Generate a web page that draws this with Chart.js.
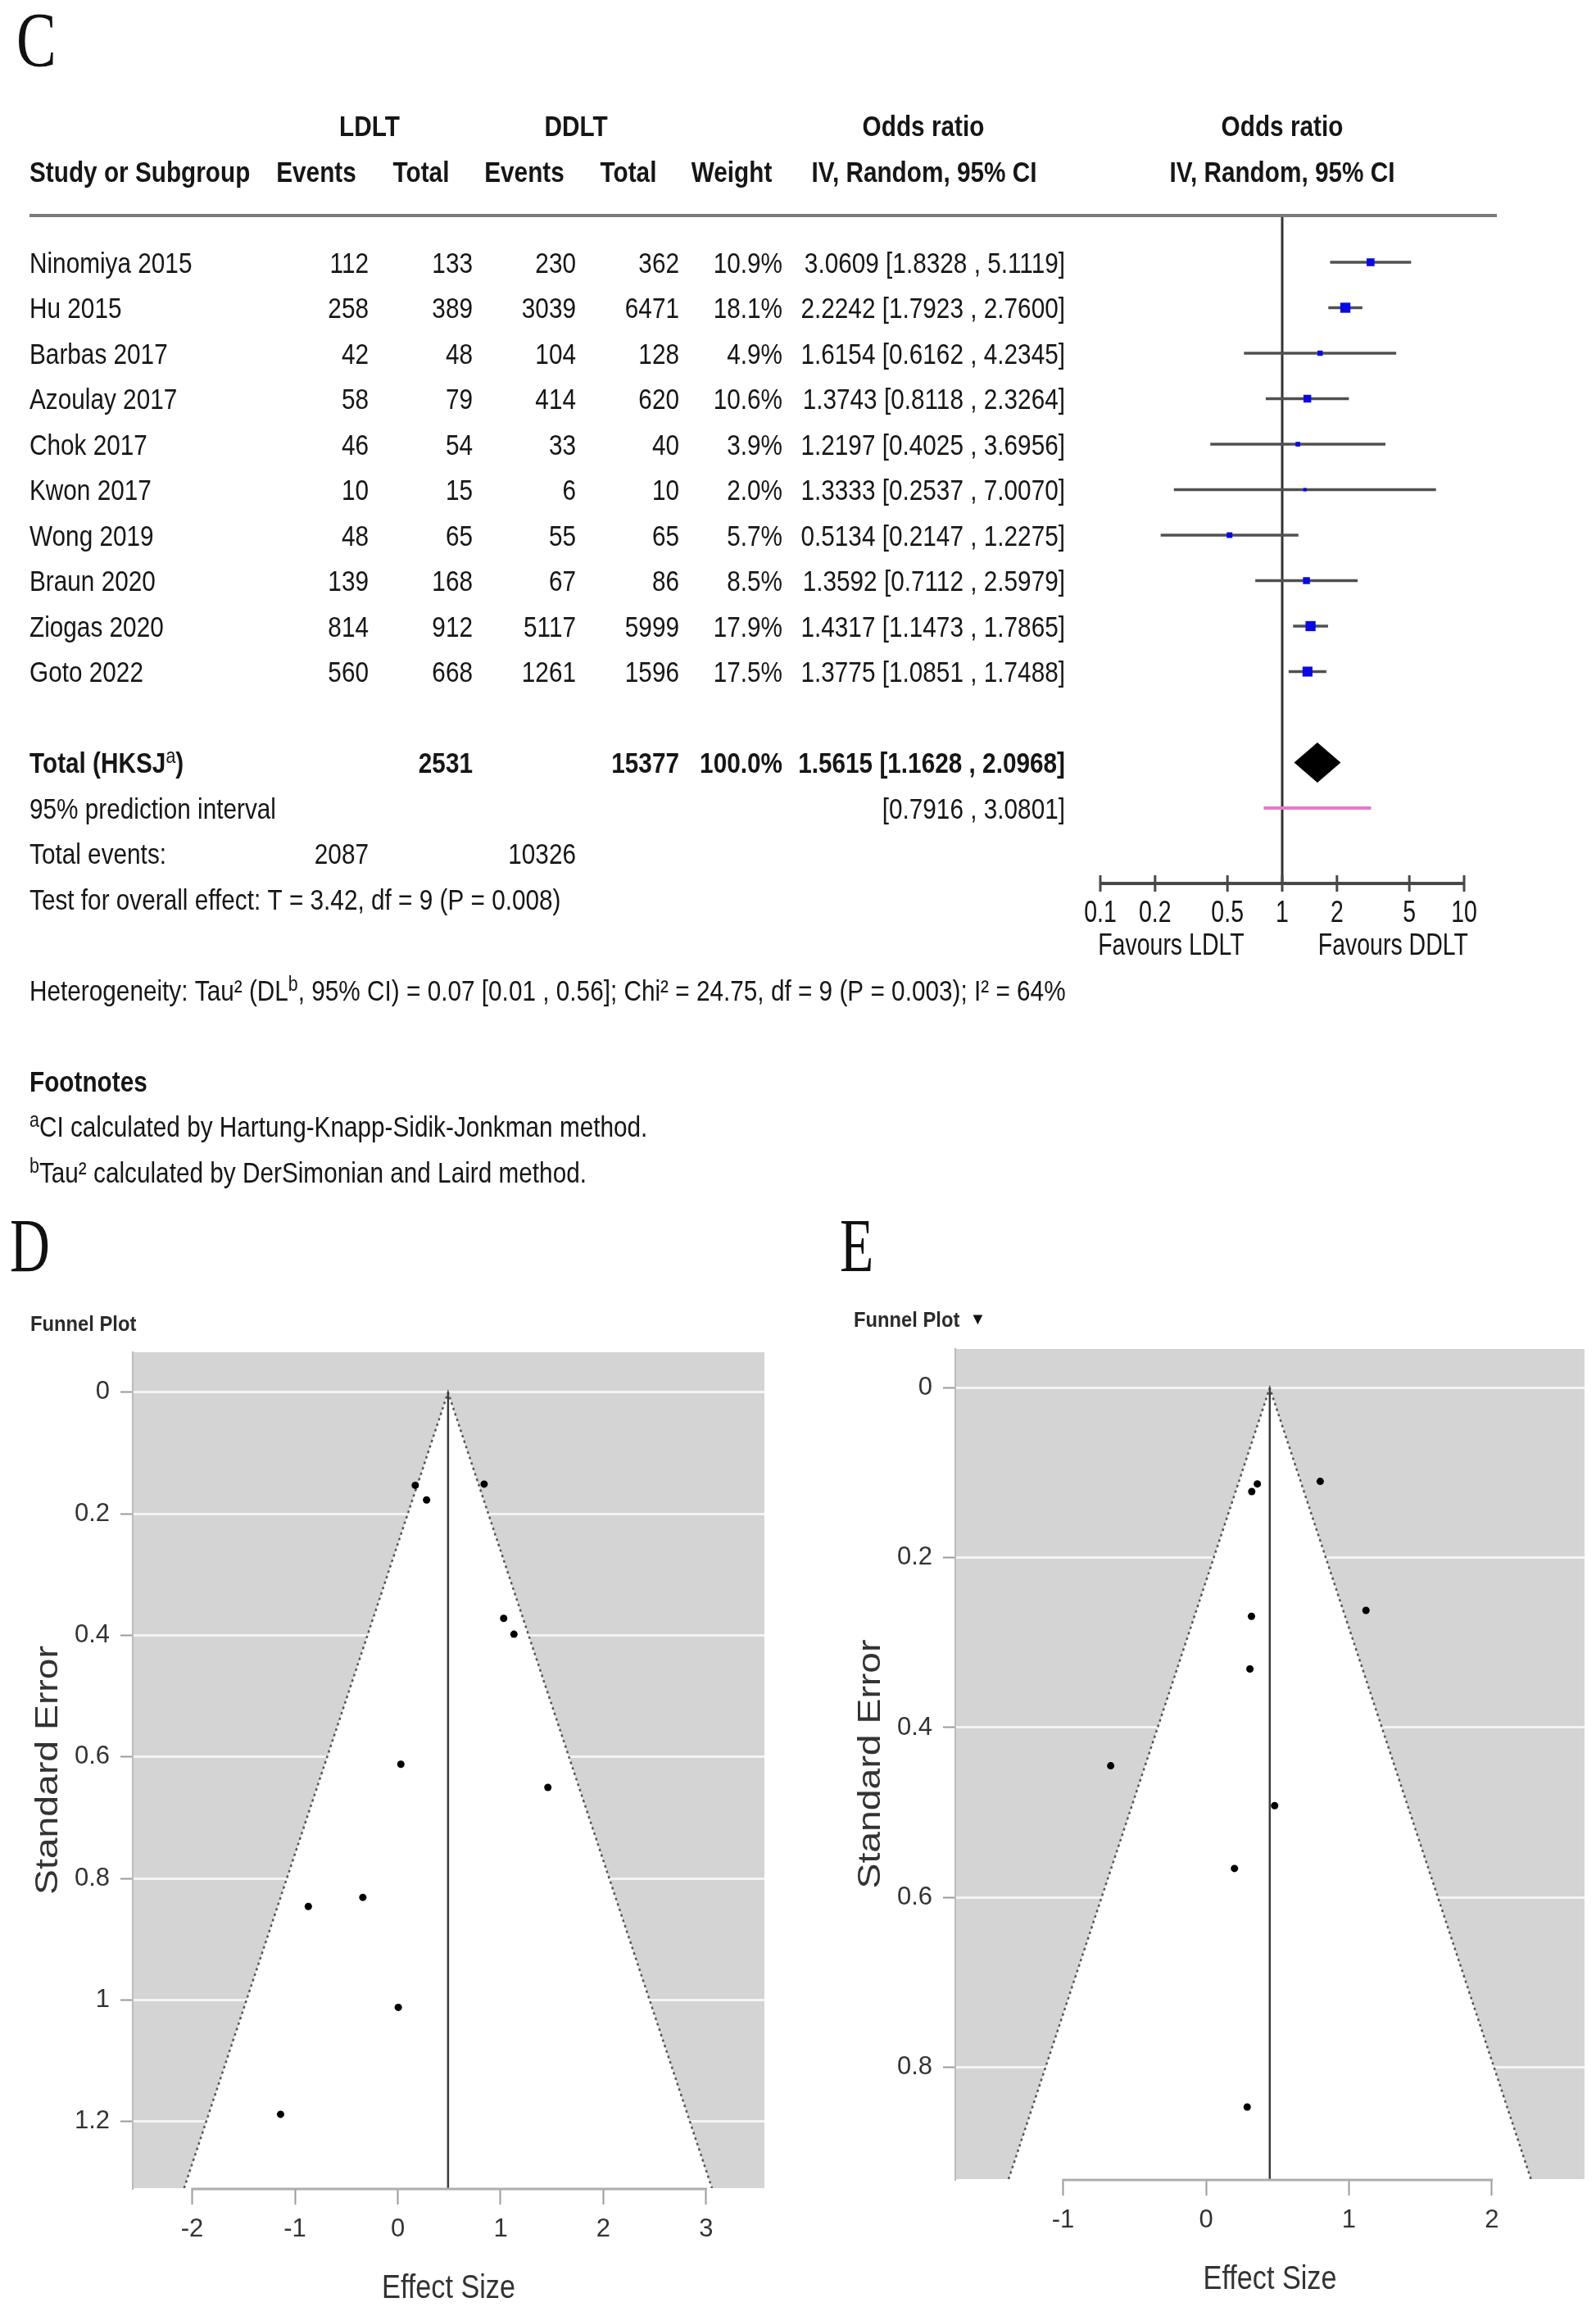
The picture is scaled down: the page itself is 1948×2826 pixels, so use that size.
<!DOCTYPE html>
<html>
<head>
<meta charset="utf-8">
<script src="https://cdn.jsdelivr.net/npm/chart.js@4.4.1/dist/chart.umd.min.js"></script>
<style>
  html, body { margin: 0; padding: 0; background: #fff; }
  body { width: 1948px; height: 2826px; position: relative; overflow: hidden; }
  canvas { position: absolute; }
  #forest { left: 0; top: 0; }
  #funnelD { left: 0; top: 1470px; }
  #funnelE { left: 974px; top: 1470px; }
</style>
</head>
<body>
<canvas id="forest" width="1948" height="1470"></canvas>
<canvas id="funnelD" width="974" height="1356"></canvas>
<canvas id="funnelE" width="974" height="1356"></canvas>
<script>
// ---- forest plot data (panel C) ----
var studies = ['Ninomiya 2015', 'Hu 2015', 'Barbas 2017', 'Azoulay 2017', 'Chok 2017',
               'Kwon 2017', 'Wong 2019', 'Braun 2020', 'Ziogas 2020', 'Goto 2022'];
var ldltEvents = [112, 258, 42, 58, 46, 10, 48, 139, 814, 560];
var ldltTotal  = [133, 389, 48, 79, 54, 15, 65, 168, 912, 668];
var ddltEvents = [230, 3039, 104, 414, 33, 6, 55, 67, 5117, 1261];
var ddltTotal  = [362, 6471, 128, 620, 40, 10, 65, 86, 5999, 1596];
var weights    = [10.9, 18.1, 4.9, 10.6, 3.9, 2.0, 5.7, 8.5, 17.9, 17.5];
var oddsRatio  = [3.0609, 2.2242, 1.6154, 1.3743, 1.2197, 1.3333, 0.5134, 1.3592, 1.4317, 1.3775];
var ciLow      = [1.8328, 1.7923, 0.6162, 0.8118, 0.4025, 0.2537, 0.2147, 0.7112, 1.1473, 1.0851];
var ciHigh     = [5.1119, 2.7600, 4.2345, 2.3264, 3.6956, 7.0070, 1.2275, 2.5979, 1.7865, 1.7488];
var pooledOR   = [1.1628, 1.5615, 2.0968];   // low, estimate, high
var predInterval = [0.7916, 3.0801];
var totalsRow  = [2531, 15377];
var eventsRow  = [2087, 10326];
var orTicks      = [0.1, 0.2, 0.5, 1, 2, 5, 10];
var orTickLabels = ['0.1', '0.2', '0.5', '1', '2', '5', '10'];

// ---- funnel plot D ----
var dEffect = [0.17, 0.28, 0.84, 1.03, 1.13, 0.03, 1.46, -0.34, -0.87, 0.005, -1.14];
var dSE     = [0.153, 0.177, 0.151, 0.372, 0.398, 0.612, 0.650, 0.831, 0.846, 1.012, 1.188];
var dXTicks = [-2, -1, 0, 1, 2, 3];
var dYTicks = [0, 0.2, 0.4, 0.6, 0.8, 1, 1.2];
var dFunnelX = [-2.078, 0.489, 3.056];
var dFunnelY = [1.3095, 0, 1.3095];

// ---- funnel plot E ----
var eEffect = [1.119, 0.799, 0.480, 0.318, 0.199, 0.288, -0.667, 0.307, 0.359, 0.320];
var eSE     = [0.262, 0.110, 0.492, 0.269, 0.566, 0.847, 0.445, 0.331, 0.113, 0.122];
var eXTicks = [-1, 0, 1, 2];
var eYTicks = [0, 0.2, 0.4, 0.6, 0.8];
var eFunnelX = [-1.381, 0.446, 2.273];
var eFunnelY = [0.932, 0, 0.932];

var SANS = '"Liberation Sans", Arial, Helvetica, sans-serif';
var SERIF = '"Liberation Serif", "Times New Roman", serif';
var INK = '#161616';

// text drawn with a horizontal squeeze (the figure is stretched vertically)
function sText(ctx, str, x, y, o) {
  ctx.save();
  ctx.font = (o.bold ? 'bold ' : '') + o.size + 'px ' + (o.family || SANS);
  ctx.textBaseline = o.base || 'middle';
  ctx.textAlign = 'left';
  var sx = o.sx || 1;
  var w = ctx.measureText(str).width * sx;
  var x0 = o.align === 'right' ? x - w : (o.align === 'center' ? x - w / 2 : x);
  ctx.translate(x0, y);
  ctx.scale(sx, 1);
  ctx.fillText(str, 0, 0);
  ctx.restore();
  return w;
}

// pieces in [] are superscripts
function sRuns(ctx, parts, x, y, o) {
  var cx = x;
  parts.forEach(function (p) {
    if (Array.isArray(p)) {
      cx += sText(ctx, p[0], cx, y - o.size * 0.26, {size: o.size * 0.72, sx: o.sx});
    } else {
      cx += sText(ctx, p, cx, y, o);
    }
  });
}

function fmtCI(v, lo, hi) {
  return v.toFixed(4) + ' [' + lo.toFixed(4) + ' , ' + hi.toFixed(4) + ']';
}

var ROW_MIN = -0.027, ROW_MAX = 14.658;
var rows = studies.map(function (_, i) { return i + 1; });
var BLUE = '#0808e8';

var forestDecor = {
  id: 'forestDecor',
  afterDatasetsDraw: function (chart) {
    var ctx = chart.ctx, xs = chart.scales.x, ys = chart.scales.y;
    var yc = ys.getPixelForValue(12), h = 24.5;
    ctx.save();
    ctx.fillStyle = '#000';
    ctx.beginPath();
    ctx.moveTo(xs.getPixelForValue(pooledOR[0]), yc);
    ctx.lineTo(xs.getPixelForValue(pooledOR[1]), yc - h);
    ctx.lineTo(xs.getPixelForValue(pooledOR[2]), yc);
    ctx.lineTo(xs.getPixelForValue(pooledOR[1]), yc + h);
    ctx.closePath();
    ctx.fill();
    ctx.restore();
  },
  afterDraw: function (chart) {
    var ctx = chart.ctx, xs = chart.scales.x, ys = chart.scales.y, ca = chart.chartArea;
    // text sits a little below the em-box middle
    var row = function (r) { return ys.getPixelForValue(r) + 3; };
    var reg = {size: 35, sx: 0.85};
    var bold = {size: 35, sx: 0.85, bold: true};
    function at(o, align) { return Object.assign({}, o, {align: align}); }

    ctx.save();
    // header rule
    ctx.strokeStyle = '#7a7a7a';
    ctx.lineWidth = 4;
    ctx.beginPath();
    ctx.moveTo(36, ca.top);
    ctx.lineTo(1827, ca.top);
    ctx.stroke();

    // x axis of the forest plot
    var axY = ca.bottom;
    ctx.strokeStyle = '#484848';
    ctx.lineWidth = 4;
    ctx.beginPath();
    ctx.moveTo(xs.getPixelForValue(orTicks[0]), axY);
    ctx.lineTo(xs.getPixelForValue(orTicks[orTicks.length - 1]), axY);
    ctx.stroke();
    ctx.lineWidth = 3;
    orTicks.forEach(function (t) {
      var px = xs.getPixelForValue(t);
      ctx.beginPath();
      ctx.moveTo(px, axY - 10);
      ctx.lineTo(px, axY + 10);
      ctx.stroke();
    });
    ctx.fillStyle = INK;
    orTicks.forEach(function (t, i) {
      sText(ctx, orTickLabels[i], xs.getPixelForValue(t), axY + 37, {size: 37, sx: 0.77, align: 'center'});
    });
    sText(ctx, 'Favours LDLT', xs.getPixelForValue(0.245), axY + 77, {size: 37, sx: 0.77, align: 'center'});
    sText(ctx, 'Favours DDLT', xs.getPixelForValue(4.07), axY + 77, {size: 37, sx: 0.77, align: 'center'});

    // panel letter
    ctx.fillStyle = '#111';
    sText(ctx, 'C', 20, 81, {size: 96, sx: 0.76, family: SERIF, base: 'alphabetic'});

    // headers
    ctx.fillStyle = INK;
    sText(ctx, 'LDLT', 451, row(-2), at(bold, 'center'));
    sText(ctx, 'DDLT', 703, row(-2), at(bold, 'center'));
    sText(ctx, 'Odds ratio', 1127, row(-2), at(bold, 'center'));
    sText(ctx, 'Odds ratio', xs.getPixelForValue(1), row(-2), at(bold, 'center'));
    sText(ctx, 'Study or Subgroup', 36, row(-1), bold);
    sText(ctx, 'Events', 386, row(-1), at(bold, 'center'));
    sText(ctx, 'Total', 514, row(-1), at(bold, 'center'));
    sText(ctx, 'Events', 640, row(-1), at(bold, 'center'));
    sText(ctx, 'Total', 767, row(-1), at(bold, 'center'));
    sText(ctx, 'Weight', 893, row(-1), at(bold, 'center'));
    sText(ctx, 'IV, Random, 95% CI', 1128, row(-1), at(bold, 'center'));
    sText(ctx, 'IV, Random, 95% CI', xs.getPixelForValue(1), row(-1), at(bold, 'center'));

    // study rows
    studies.forEach(function (s, i) {
      var y = row(rows[i]);
      sText(ctx, s, 36, y, reg);
      sText(ctx, String(ldltEvents[i]), 450, y, at(reg, 'right'));
      sText(ctx, String(ldltTotal[i]), 577, y, at(reg, 'right'));
      sText(ctx, String(ddltEvents[i]), 703, y, at(reg, 'right'));
      sText(ctx, String(ddltTotal[i]), 829, y, at(reg, 'right'));
      sText(ctx, weights[i].toFixed(1) + '%', 955, y, at(reg, 'right'));
      sText(ctx, fmtCI(oddsRatio[i], ciLow[i], ciHigh[i]), 1300, y, at(reg, 'right'));
    });

    // summary rows
    var y12 = row(12);
    sRuns(ctx, ['Total (HKSJ', ['a'], ')'], 36, y12, bold);
    sText(ctx, String(totalsRow[0]), 577, y12, at(bold, 'right'));
    sText(ctx, String(totalsRow[1]), 829, y12, at(bold, 'right'));
    sText(ctx, '100.0%', 955, y12, at(bold, 'right'));
    sText(ctx, fmtCI(pooledOR[1], pooledOR[0], pooledOR[2]), 1300, y12, at(bold, 'right'));

    sText(ctx, '95% prediction interval', 36, row(13), reg);
    sText(ctx, '[' + predInterval[0].toFixed(4) + ' , ' + predInterval[1].toFixed(4) + ']', 1300, row(13), at(reg, 'right'));

    sText(ctx, 'Total events:', 36, row(14), reg);
    sText(ctx, String(eventsRow[0]), 450, row(14), at(reg, 'right'));
    sText(ctx, String(eventsRow[1]), 703, row(14), at(reg, 'right'));

    sText(ctx, 'Test for overall effect: T = 3.42, df = 9 (P = 0.008)', 36, row(15), reg);
    sRuns(ctx, ['Heterogeneity: Tau\u00b2 (DL', ['b'], ', 95% CI) = 0.07 [0.01 , 0.56]; Chi\u00b2 = 24.75, df = 9 (P = 0.003); I\u00b2 = 64%'], 36, row(17), reg);

    sText(ctx, 'Footnotes', 36, row(19), bold);
    sRuns(ctx, [['a'], 'CI calculated by Hartung-Knapp-Sidik-Jonkman method.'], 36, row(20), reg);
    sRuns(ctx, [['b'], 'Tau\u00b2 calculated by DerSimonian and Laird method.'], 36, row(21), reg);
    ctx.restore();
  }
};

var forestDatasets = [{
  type: 'scatter',
  data: oddsRatio.map(function (v, i) { return {x: v, y: rows[i]}; }),
  pointStyle: 'rect',
  pointRadius: weights.map(function (w) { return 2.9 * Math.sqrt(w) / Math.SQRT2; }),
  backgroundColor: BLUE,
  borderColor: BLUE,
  borderWidth: 0,
  order: 0
}];
studies.forEach(function (s, i) {
  forestDatasets.push({
    type: 'line',
    data: [{x: ciLow[i], y: rows[i]}, {x: ciHigh[i], y: rows[i]}],
    borderColor: '#505050',
    borderWidth: 3.5,
    pointRadius: 0,
    order: 2
  });
});
forestDatasets.push({
  type: 'line',
  data: [{x: 1, y: ROW_MIN}, {x: 1, y: ROW_MAX}],
  borderColor: '#333333',
  borderWidth: 3,
  pointRadius: 0,
  order: 3
});
forestDatasets.push({
  type: 'line',
  data: [{x: predInterval[0], y: 13}, {x: predInterval[1], y: 13}],
  borderColor: '#e27ac9',
  borderWidth: 4,
  pointRadius: 0,
  order: 1
});

new Chart(document.getElementById('forest'), {
  type: 'scatter',
  data: {datasets: forestDatasets},
  options: {
    responsive: false,
    animation: false,
    devicePixelRatio: 1,
    events: [],
    layout: {padding: {left: 1343, right: 161, top: 263, bottom: 392}},
    plugins: {legend: {display: false}, tooltip: {enabled: false}},
    scales: {
      x: {type: 'logarithmic', min: 0.1, max: 10, display: false},
      y: {type: 'linear', min: ROW_MIN, max: ROW_MAX, reverse: true, display: false}
    }
  },
  plugins: [forestDecor]
});

// ---- funnel plots ----
function tickText(v) { return String(+v.toFixed(2)); }

function funnelDecor(letter, letterX, titleX, titleY, showArrow) {
  return {
    id: 'funnelDecor' + letter,
    beforeDraw: function (chart) {
      var ca = chart.chartArea, ctx = chart.ctx;
      ctx.save();
      ctx.fillStyle = '#d4d4d4';
      ctx.fillRect(ca.left, ca.top, ca.right - ca.left, ca.bottom - ca.top);
      ctx.restore();
    },
    afterDraw: function (chart) {
      var ca = chart.chartArea, ctx = chart.ctx, xs = chart.scales.x;
      var ticks = xs.ticks;
      ctx.save();
      ctx.strokeStyle = '#adadad';
      ctx.lineWidth = 3;
      ctx.beginPath();
      ctx.moveTo(xs.getPixelForValue(ticks[0].value) - 1, ca.bottom + 1);
      ctx.lineTo(xs.getPixelForValue(ticks[ticks.length - 1].value) + 1, ca.bottom + 1);
      ctx.stroke();

      ctx.fillStyle = '#333';
      sText(ctx, 'Effect Size', (ca.left + ca.right) / 2, ca.bottom + 123, {size: 40, sx: 0.855, align: 'center'});
      ctx.save();
      ctx.translate(ca.left - 102, (ca.top + ca.bottom) / 2);
      ctx.rotate(-Math.PI / 2);
      ctx.scale(1.22, 1);
      ctx.font = '38px ' + SANS;
      ctx.textAlign = 'center';
      ctx.textBaseline = 'middle';
      ctx.fillText('Standard Error', 0, 0);
      ctx.restore();

      ctx.fillStyle = '#2b2b2b';
      var w = sText(ctx, 'Funnel Plot', titleX, titleY, {size: 25, bold: true, sx: 0.95});
      if (showArrow) {
        ctx.fillStyle = '#111';
        sText(ctx, '\u25bc', titleX + w + 22, titleY - 2, {size: 20, align: 'center'});
      }
      ctx.fillStyle = '#111';
      sText(ctx, letter, letterX, 81, {size: 94, sx: 0.72, family: SERIF, base: 'alphabetic'});
      ctx.restore();
    }
  };
}

function funnelChart(id, o) {
  var yMax = o.funnelY[0];
  var tickFont = {family: SANS, size: 31};
  return new Chart(document.getElementById(id), {
    type: 'scatter',
    data: {
      datasets: [{
        data: o.effect.map(function (x, i) { return {x: x, y: o.se[i]}; }),
        pointRadius: 4.5,
        backgroundColor: '#000',
        borderWidth: 0,
        order: 0
      }, {
        type: 'line',
        data: [{x: o.funnelX[1], y: 0}, {x: o.funnelX[1], y: yMax}],
        borderColor: '#3a3a3a',
        borderWidth: 2.5,
        pointRadius: 0,
        order: 1
      }, {
        type: 'line',
        data: o.funnelX.map(function (x, i) { return {x: x, y: o.funnelY[i]}; }),
        borderColor: '#555',
        borderWidth: 2.5,
        borderDash: [3, 4],
        pointRadius: 0,
        tension: 0,
        fill: {value: yMax},
        backgroundColor: '#ffffff',
        order: 2
      }]
    },
    options: {
      responsive: false,
      animation: false,
      devicePixelRatio: 1,
      events: [],
      layout: {padding: o.pad},
      plugins: {legend: {display: false}, tooltip: {enabled: false}},
      scales: {
        x: {
          type: 'linear', min: o.xRange[0], max: o.xRange[1],
          afterBuildTicks: function (s) { s.ticks = o.xTicks.map(function (v) { return {value: v}; }); },
          afterFit: function (s) { s.height = 100; },
          border: {display: false},
          grid: {drawOnChartArea: false, drawTicks: true, tickLength: 20, tickColor: '#9a9a9a', tickWidth: 2},
          ticks: {padding: 12, color: '#333', font: tickFont, maxRotation: 0, autoSkip: false, callback: tickText}
        },
        y: {
          type: 'linear', reverse: true, min: o.yRange[0], max: o.yRange[1],
          afterBuildTicks: function (s) { s.ticks = o.yTicks.map(function (v) { return {value: v}; }); },
          afterFit: function (s) { s.width = 120; },
          border: {display: true, color: '#bbbbbb', width: 2},
          grid: {color: '#f4f4f4', lineWidth: 3, drawTicks: true, tickLength: 15, tickColor: '#9a9a9a', tickWidth: 2},
          ticks: {padding: 13, color: '#333', font: tickFont, autoSkip: false, callback: tickText}
        }
      }
    },
    plugins: [o.decor]
  });
}

funnelChart('funnelD', {
  effect: dEffect, se: dSE, xTicks: dXTicks, yTicks: dYTicks,
  funnelX: dFunnelX, funnelY: dFunnelY,
  xRange: [-2.578, 3.566], yRange: [-0.066, 1.3095],
  pad: {left: 42, right: 41, top: 180, bottom: 56},
  decor: funnelDecor('D', 12, 37, 147, false)
});

funnelChart('funnelE', {
  effect: eEffect, se: eSE, xTicks: eXTicks, yTicks: eYTicks,
  funnelX: eFunnelX, funnelY: eFunnelY,
  xRange: [-1.754, 2.648], yRange: [-0.046, 0.932],
  pad: {left: 72, right: 14, top: 176, bottom: 67},
  decor: funnelDecor('E', 51, 68, 142, true)
});
</script>
</body>
</html>
